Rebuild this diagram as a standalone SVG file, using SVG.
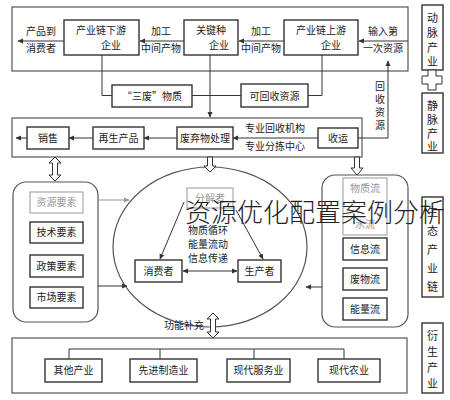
<svg xmlns="http://www.w3.org/2000/svg" width="450" height="400" viewBox="0 0 450 400">
<defs>
<style>
text{font-family:"Noto Sans CJK SC","Noto Sans",sans-serif;font-size:10px;fill:#222;}
.c{text-anchor:middle;}
.box{fill:#fff;stroke:#333;stroke-width:1.4;}
.gbox{fill:#fff;stroke:#aaa;stroke-width:1.2;}
.g{fill:#999;}
.outer{fill:none;stroke:#555;stroke-width:1.2;}
.ln{fill:none;stroke:#333;stroke-width:1;}
.gl{fill:none;stroke:#999;stroke-width:1;}
.hol{fill:#fff;stroke:#333;stroke-width:1;}
.vt{text-anchor:middle;font-size:11px;}
</style>
<marker id="a" markerWidth="6" markerHeight="6" refX="5" refY="3" orient="auto" markerUnits="userSpaceOnUse">
<path d="M0,0.5 L5.5,3 L0,5.5 Z" fill="#333"/>
</marker>
<marker id="as" markerWidth="6" markerHeight="6" refX="1" refY="3" orient="auto" markerUnits="userSpaceOnUse">
<path d="M6,0.5 L0.5,3 L6,5.5 Z" fill="#333"/>
</marker>
<marker id="ag" markerWidth="6" markerHeight="6" refX="5" refY="3" orient="auto" markerUnits="userSpaceOnUse">
<path d="M0,0.5 L5.5,3 L0,5.5 Z" fill="#999"/>
</marker>
</defs>
<rect width="450" height="400" fill="#fff"/>

<g id="frames">
<rect class="outer" x="12" y="7" width="396" height="64"/>
<rect class="outer" x="12" y="118" width="350" height="39"/>
<rect class="outer" x="12" y="338" width="395" height="55"/>
<rect class="outer" x="13" y="182" width="85" height="140" rx="13"/>
<rect class="outer" x="322" y="175" width="86" height="152" rx="13"/>
<ellipse class="outer" cx="210" cy="247" rx="97" ry="80"/>
</g>

<g id="connectors">
<line class="ln" x1="408" y1="41" x2="359" y2="41" marker-end="url(#a)"/>
<line class="ln" x1="284" y1="41" x2="239" y2="41" marker-end="url(#a)"/>
<line class="ln" x1="184" y1="41" x2="140" y2="41" marker-end="url(#a)"/>
<line class="ln" x1="64" y1="41" x2="18" y2="41" marker-end="url(#a)"/>
<path class="ln" d="M322,55 V95.5 H308"/>
<path class="ln" d="M102,55 V95.5 H112"/>
<path class="ln" d="M192,95.5 H241"/>
<path class="ln" d="M210,55 V117" marker-end="url(#a)"/>
<path class="ln" d="M358,138 H388 V61" marker-end="url(#a)"/>
<line class="ln" x1="318" y1="138" x2="233" y2="138" marker-end="url(#a)"/>
<line class="ln" x1="177" y1="138" x2="144" y2="138" marker-end="url(#a)"/>
<line class="ln" x1="93" y1="138" x2="69" y2="138" marker-end="url(#a)"/>
<line class="ln" x1="27" y1="138" x2="16" y2="138" marker-end="url(#a)"/>
<line class="gl" x1="98" y1="200" x2="129" y2="200" marker-end="url(#ag)"/>
<line class="ln" x1="98" y1="286" x2="127" y2="286" marker-end="url(#a)"/>
<line class="ln" x1="322" y1="287" x2="306" y2="287" marker-end="url(#a)"/>
<line class="ln" x1="184" y1="202" x2="160" y2="259" marker-end="url(#a)"/>
<line class="ln" x1="236" y1="210" x2="263" y2="259" marker-end="url(#a)"/>
<line class="ln" x1="183" y1="271" x2="237" y2="271" marker-start="url(#as)" marker-end="url(#a)"/>
<path class="ln" d="M69,359 V349 H344 V359 M160,349 V359 M254,349 V359"/>
<polygon class="hol" points="55,157 61,163 57.5,163 57.5,175 61,175 55,181 49,175 52.5,175 52.5,163 49,163"/>
<polygon class="hol" points="207.5,157 212.5,157 212.5,166 216,166 210,172 204,166 207.5,166"/>
<polygon class="hol" points="354.5,157 359.5,157 359.5,168 363,168 357,175 351,168 354.5,168"/>
<polygon class="hol" points="213,313 219,319 215.5,319 215.5,332 219,332 213,338 207,332 210.5,332 210.5,319 207,319"/>
</g>

<g id="labels">
<text class="c" x="383" y="35">输入第</text>
<text class="c" x="383" y="52">一次资源</text>
<text class="c" x="261" y="35">加工</text>
<text class="c" x="261" y="52">中间产物</text>
<text class="c" x="161" y="35">加工</text>
<text class="c" x="161" y="52">中间产物</text>
<text class="c" x="41" y="35">产品到</text>
<text class="c" x="41" y="52">消费者</text>
<text class="c" x="275" y="132">专业回收机构</text>
<text class="c" x="275" y="150">专业分拣中心</text>
<text class="vt" x="380" y="90" style="font-size:10px">回</text>
<text class="vt" x="380" y="103" style="font-size:10px">收</text>
<text class="vt" x="380" y="116" style="font-size:10px">资</text>
<text class="vt" x="380" y="129" style="font-size:10px">源</text>
<text class="c" x="184" y="329">功能补充</text>
</g>

<g id="n-upstream"><rect class="box" x="284" y="20" width="74" height="35"/><text class="c" x="321" y="34">产业链上游</text><text class="c" x="331" y="49">企业</text></g>
<g id="n-keystone"><rect class="box" x="184" y="20" width="54" height="35"/><text class="c" x="211" y="34">关键种</text><text class="c" x="219" y="49">企业</text></g>
<g id="n-downstream"><rect class="box" x="64" y="20" width="75" height="35"/><text class="c" x="101" y="34">产业链下游</text><text class="c" x="111" y="49">企业</text></g>
<g id="n-recyclable"><rect class="box" x="241" y="84" width="67" height="23"/><text class="c" x="274.5" y="99.5">可回收资源</text></g>
<g id="n-waste3"><rect class="box" x="112" y="85" width="80" height="22"/><text class="c" x="152" y="100">“三废”物质</text></g>
<g id="n-collect"><rect class="box" x="318" y="128" width="40" height="20"/><text class="c" x="338" y="142">收运</text></g>
<g id="n-treat"><rect class="box" x="177" y="127" width="56" height="22"/><text class="c" x="205" y="142">废弃物处理</text></g>
<g id="n-recycled"><rect class="box" x="93" y="127" width="51" height="22"/><text class="c" x="118.5" y="142">再生产品</text></g>
<g id="n-sales"><rect class="box" x="27" y="127" width="42" height="22"/><text class="c" x="48" y="142">销售</text></g>

<g id="n-res"><rect class="gbox" x="30" y="192" width="53" height="21"/><text class="c g" x="56.5" y="206">资源要素</text></g>
<g id="n-tech"><rect class="box" x="30" y="222" width="53" height="21"/><text class="c" x="56.5" y="236">技术要素</text></g>
<g id="n-policy"><rect class="box" x="30" y="255" width="53" height="22"/><text class="c" x="56.5" y="270">政策要素</text></g>
<g id="n-market"><rect class="box" x="30" y="287" width="53" height="21"/><text class="c" x="56.5" y="301">市场要素</text></g>

<g id="n-decomp"><rect class="gbox" x="187" y="188" width="46" height="20"/><text class="c g" x="210" y="202">分解者</text></g>
<g id="n-cycle"><text class="c" x="208" y="234">物质循环</text><text class="c" x="208" y="248">能量流动</text><text class="c" x="208" y="262">信息传递</text></g>
<g id="n-consumer"><rect class="box" x="135" y="260" width="47" height="22"/><text class="c" x="158.5" y="275">消费者</text></g>
<g id="n-producer"><rect class="box" x="238" y="260" width="43" height="22"/><text class="c" x="259.5" y="275">生产者</text></g>

<g id="n-matter"><rect class="gbox" x="343" y="178" width="44" height="57"/><text class="c g" x="365" y="192">物质流</text><text class="c g" x="365" y="228">水流</text></g>
<g id="n-info"><rect class="box" x="343" y="238" width="44" height="22"/><text class="c" x="365" y="253">信息流</text></g>
<g id="n-wasteflow"><rect class="box" x="343" y="268" width="44" height="22"/><text class="c" x="365" y="283">废物流</text></g>
<g id="n-energy"><rect class="box" x="343" y="298" width="44" height="22"/><text class="c" x="365" y="313">能量流</text></g>

<g id="n-other"><rect class="box" x="45" y="359" width="57" height="23"/><text class="c" x="73.5" y="374">其他产业</text></g>
<g id="n-manu"><rect class="box" x="130" y="359" width="67" height="23"/><text class="c" x="163.5" y="374">先进制造业</text></g>
<g id="n-service"><rect class="box" x="227" y="359" width="63" height="23"/><text class="c" x="258.5" y="374">现代服务业</text></g>
<g id="n-agri"><rect class="box" x="318" y="359" width="62" height="23"/><text class="c" x="349" y="374">现代农业</text></g>

<g id="n-artery"><rect class="box" x="422" y="5" width="21" height="65"/><text class="vt" x="432.5" y="22">动</text><text class="vt" x="432.5" y="37">脉</text><text class="vt" x="432.5" y="52">产</text><text class="vt" x="432.5" y="66">业</text></g>
<g id="n-plus"><polygon class="hol" stroke-width="1.4" points="428,70 436,70 436,76 442,76 442,84 436,84 436,90 428,90 428,84 422,84 422,76 428,76"/></g>
<g id="n-vein"><rect class="box" x="422" y="93" width="21" height="60"/><text class="vt" x="432.5" y="110">静</text><text class="vt" x="432.5" y="124">脉</text><text class="vt" x="432.5" y="138">产</text><text class="vt" x="432.5" y="151">业</text></g>
<g id="n-chain"><rect class="box" x="422" y="197" width="21" height="100"/><text class="vt" x="432.5" y="216">生</text><text class="vt" x="432.5" y="235">态</text><text class="vt" x="432.5" y="254">产</text><text class="vt" x="432.5" y="273">业</text><text class="vt" x="432.5" y="291">链</text></g>
<g id="n-derived"><rect class="box" x="422" y="323" width="21" height="70"/><text class="vt" x="432.5" y="340">衍</text><text class="vt" x="432.5" y="356">生</text><text class="vt" x="432.5" y="372">产</text><text class="vt" x="432.5" y="388">业</text></g>

<text id="watermark" x="185" y="222" style="font-size:26px;font-weight:300;fill:#222">资源优化配置案例分析</text>
</svg>
